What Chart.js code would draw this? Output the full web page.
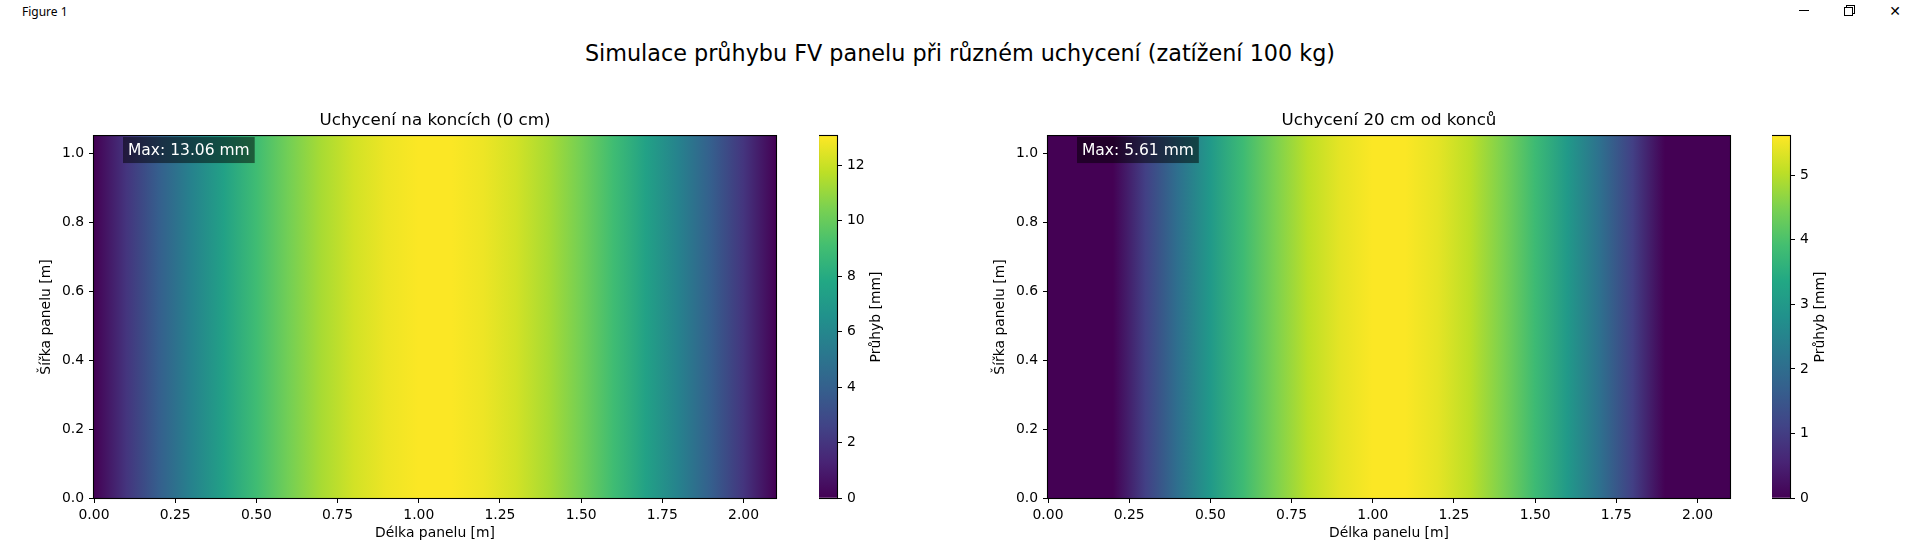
<!DOCTYPE html>
<html>
<head>
<meta charset="utf-8">
<title>Simulace průhybu FV panelu</title>
<script src="https://cdn.jsdelivr.net/npm/chart.js@4.4.0/dist/chart.umd.min.js"></script>
<style>
  html, body { margin: 0; padding: 0; background: #fff; }
  body { width: 1920px; height: 554px; position: relative; overflow: hidden; font-family: "DejaVu Sans", sans-serif; }
  canvas { position: absolute; top: 0; }
  #wintitle { position: absolute; left: 22px; top: 3px; font: 12px "Noto Sans", sans-serif; color: #000; }
  #suptitle { position: absolute; left: 0; top: 40px; width: 1920px; text-align: center; font-size: 22.3px; line-height: 26px; color: #000; }
  .btn { position: absolute; top: 0; width: 20px; height: 22px; }
  #minimize::after { content: ""; position: absolute; left: 5px; top: 10px; width: 10px; height: 1px; background: #000; }
  #restore::before { content: ""; position: absolute; left: 7px; top: 5px; width: 7px; height: 7px; border: 1px solid #000; }
  #restore::after { content: ""; position: absolute; left: 5px; top: 7px; width: 7px; height: 7px; border: 1px solid #000; background: #fff; }
  #close { font: 14px "DejaVu Sans", sans-serif; line-height: 22px; text-align: center; color: #000; }
</style>
</head>
<body>
<div id="wintitle">Figure 1</div>
<div class="btn" id="minimize" style="left:1794px"></div>
<div class="btn" id="restore" style="left:1839px"></div>
<div class="btn" id="close" style="left:1885px">✕</div>
<div id="suptitle">Simulace průhybu FV panelu při různém uchycení (zatížení 100 kg)</div>
<canvas id="plotEnds" width="800" height="554" style="left:0"></canvas>
<canvas id="barEnds" width="100" height="554" style="left:819px"></canvas>
<canvas id="plot20" width="800" height="554" style="left:954px"></canvas>
<canvas id="bar20" width="100" height="554" style="left:1772px"></canvas>
<script>
// panel size [m]
const panelLength = 2.1;
const panelWidth = 1.05;

// sample positions along the panel [m] and deflection [mm]
const positions = [0.0, 0.1, 0.2, 0.3, 0.4, 0.5, 0.6, 0.7, 0.8, 0.9, 1.0,
                   1.1, 1.2, 1.3, 1.4, 1.5, 1.6, 1.7, 1.8, 1.9, 2.0, 2.1];
const deflectionEnds = [0.00, 1.98, 3.91, 5.75, 7.44, 8.96, 10.27, 11.35, 12.18, 12.74, 13.02,
                        13.02, 12.74, 12.18, 11.35, 10.27, 8.96, 7.44, 5.75, 3.91, 1.98, 0.00];
const deflection20 = [0.00, 0.00, 0.00, 1.05, 2.06, 2.99, 3.81, 4.50, 5.04, 5.40, 5.59,
                      5.59, 5.40, 5.04, 4.50, 3.81, 2.99, 2.06, 1.05, 0.00, 0.00, 0.00];
const maxDeflection = [13.06, 5.61];

const panelTitles = ["Uchycení na koncích (0 cm)", "Uchycení 20 cm od konců"];
const xTicks = [0, 0.25, 0.5, 0.75, 1.0, 1.25, 1.5, 1.75, 2.0];
const yTicks = [0, 0.2, 0.4, 0.6, 0.8, 1.0];
const cbTicksEnds = [0, 2, 4, 6, 8, 10, 12];
const cbTicks20 = [0, 1, 2, 3, 4, 5];

const viridis = ["#440154", "#482475", "#414487", "#355f8d", "#2a788e", "#21918c",
                 "#22a884", "#44bf70", "#7ad151", "#bddf26", "#fde725"];

Chart.defaults.font.family = "'DejaVu Sans', sans-serif";
Chart.defaults.color = "#000";

function hexRgb(h) {
    return [1, 3, 5].map(i => parseInt(h.substring(i, i + 2), 16));
}

function viridisColor(t) {
    t = Math.max(0, Math.min(1, t));
    const p = t * (viridis.length - 1);
    const i = Math.min(Math.floor(p), viridis.length - 2);
    const f = p - i;
    const a = hexRgb(viridis[i]), b = hexRgb(viridis[i + 1]);
    const c = a.map((v, k) => Math.round(v + (b[k] - v) * f));
    return `rgb(${c[0]},${c[1]},${c[2]})`;
}

const fixTicks = list => scale => { scale.ticks = list.map(v => ({ value: v })); };
const tickFont = { size: 13.9 };
const tickGrid = { display: true, drawOnChartArea: false, tickLength: 5, color: "#000", lineWidth: 1, offset: false };

// black outline round the plot area
const frame = {
    id: "frame",
    afterDraw(chart) {
        const { ctx, chartArea: a } = chart;
        ctx.save();
        ctx.strokeStyle = "#000";
        ctx.lineWidth = 1.1;
        ctx.strokeRect(a.left - 0.5, a.top - 0.5, a.right - a.left + 1, a.bottom - a.top + 1);
        ctx.restore();
    }
};

function maxLabel(text) {
    return {
        id: "maxLabel",
        afterDraw(chart) {
            const { ctx, chartArea: a } = chart;
            ctx.save();
            ctx.font = "15.5px 'DejaVu Sans', sans-serif";
            const w = ctx.measureText(text).width;
            const x = a.left + 29, y = a.top + 1;
            ctx.fillStyle = "rgba(0,0,0,0.5)";
            ctx.fillRect(x, y, w + 10, 26);
            ctx.fillStyle = "#fff";
            ctx.textBaseline = "middle";
            ctx.fillText(text, x + 5, y + 13.5);
            ctx.restore();
        }
    };
}

const colorbarLabel = {
    id: "colorbarLabel",
    afterDraw(chart) {
        const { ctx, chartArea: a } = chart;
        ctx.save();
        ctx.font = "13.9px 'DejaVu Sans', sans-serif";
        const widest = Math.max(...chart.scales.y.ticks.map(t => ctx.measureText(String(t.label)).width));
        ctx.translate(a.right + 5 + 5 + widest + 4 + 8, (a.top + a.bottom) / 2);
        ctx.rotate(-Math.PI / 2);
        ctx.textAlign = "center";
        ctx.textBaseline = "middle";
        ctx.fillText("Průhyb [mm]", 0, 0);
        ctx.restore();
    }
};

function heatmap(id, values, vmax, title) {
    const fill = (c) => {
        const chart = c.chart;
        if (!chart.chartArea) return viridis[0];
        const x = chart.scales.x;
        const g = chart.ctx.createLinearGradient(x.getPixelForValue(0), 0, x.getPixelForValue(panelLength), 0);
        positions.forEach((p, i) => g.addColorStop(Math.min(1, p / panelLength), viridisColor(values[i] / vmax)));
        return g;
    };

    return new Chart(document.getElementById(id), {
        type: "bar",
        data: {
            datasets: [{
                data: positions.map(p => ({ x: p, y: [0, panelWidth] })),
                backgroundColor: fill,
                borderWidth: 0,
                inflateAmount: 1,
                barPercentage: 1.1,
                categoryPercentage: 1.0,
                clip: 0
            }]
        },
        options: {
            responsive: false,
            animation: false,
            events: [],
            layout: { padding: { left: 0, right: 24, top: 0, bottom: 0 } },
            plugins: {
                legend: { display: false },
                tooltip: { enabled: false },
                title: {
                    display: true,
                    text: title,
                    fullSize: false,
                    color: "#000",
                    font: { size: 16.7, weight: "normal" },
                    padding: { top: 111, bottom: 5 }
                }
            },
            scales: {
                x: {
                    type: "linear",
                    min: 0,
                    max: panelLength,
                    offset: false,
                    afterBuildTicks: fixTicks(xTicks),
                    afterFit: s => { s.height = 56; },
                    ticks: { callback: v => v.toFixed(2), font: tickFont, padding: 4, maxRotation: 0, autoSkip: false },
                    grid: tickGrid,
                    border: { display: false },
                    title: { display: true, text: "Délka panelu [m]", font: tickFont, padding: { top: 0, bottom: 12 } }
                },
                y: {
                    min: 0,
                    max: panelWidth,
                    afterBuildTicks: fixTicks(yTicks),
                    afterFit: s => { s.width = 94; },
                    ticks: { callback: v => v.toFixed(1), font: tickFont, padding: 5 },
                    grid: tickGrid,
                    border: { display: false },
                    title: { display: true, text: "Šířka panelu [m]", font: tickFont, padding: { top: 38, bottom: 0 } }
                }
            }
        },
        plugins: [frame, maxLabel(`Max: ${vmax.toFixed(2)} mm`)]
    });
}

function colorbar(id, vmax, ticks) {
    const fill = (c) => {
        const chart = c.chart;
        if (!chart.chartArea) return viridis[0];
        const y = chart.scales.y;
        const g = chart.ctx.createLinearGradient(0, y.getPixelForValue(0), 0, y.getPixelForValue(vmax));
        viridis.forEach((col, i) => g.addColorStop(i / (viridis.length - 1), col));
        return g;
    };

    return new Chart(document.getElementById(id), {
        type: "bar",
        data: {
            labels: ["Průhyb"],
            datasets: [{
                data: [[0, vmax]],
                backgroundColor: fill,
                borderWidth: 0,
                barPercentage: 1.0,
                categoryPercentage: 1.0
            }]
        },
        options: {
            responsive: false,
            animation: false,
            events: [],
            layout: { padding: { left: 0, right: 0, top: 136, bottom: 56 } },
            plugins: { legend: { display: false }, tooltip: { enabled: false } },
            scales: {
                x: { display: false },
                y: {
                    position: "right",
                    min: 0,
                    max: vmax,
                    afterBuildTicks: fixTicks(ticks),
                    afterFit: s => { s.width = 82; },
                    ticks: { font: tickFont, padding: 5 },
                    grid: tickGrid,
                    border: { display: false }
                }
            }
        },
        plugins: [frame, colorbarLabel]
    });
}

heatmap("plotEnds", deflectionEnds, maxDeflection[0], panelTitles[0]);
colorbar("barEnds", maxDeflection[0], cbTicksEnds);
heatmap("plot20", deflection20, maxDeflection[1], panelTitles[1]);
colorbar("bar20", maxDeflection[1], cbTicks20);
</script>
</body>
</html>
